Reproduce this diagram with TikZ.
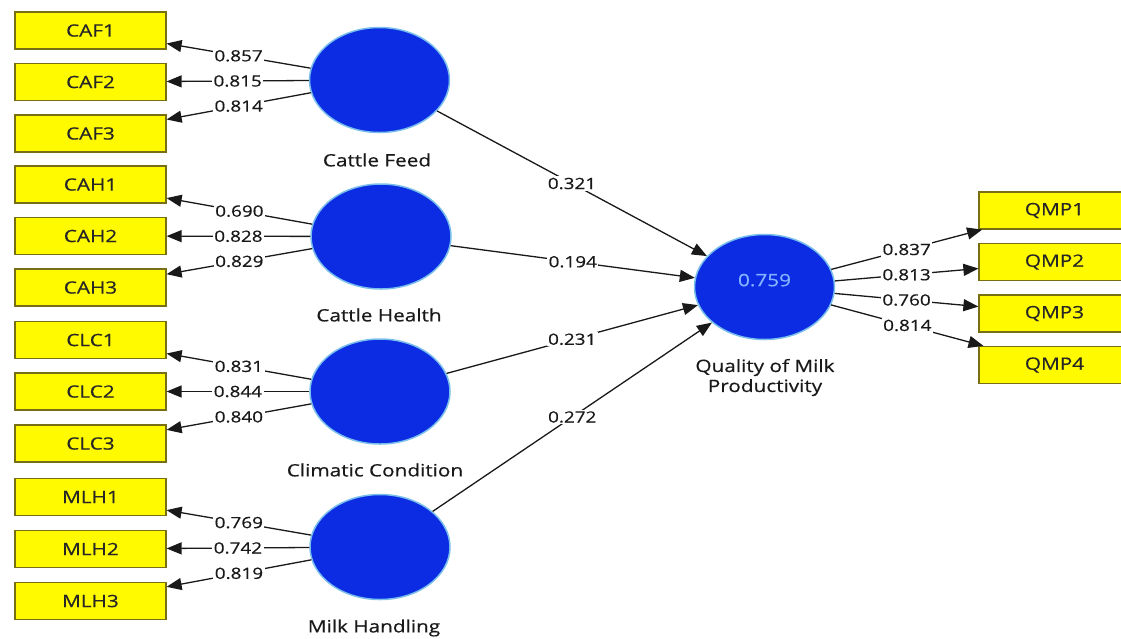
\documentclass[tikz,border=0pt]{standalone}
\usepackage{fontspec}
\setmainfont{Open Sans}[FakeStretch=1.22,FakeBold=0.5]
\usetikzlibrary{shapes.geometric,arrows.meta}
\definecolor{lvblue}{RGB}{12,44,228}
\definecolor{lvedge}{RGB}{120,190,235}
\definecolor{mvyellow}{RGB}{255,250,0}
\definecolor{mvedge}{RGB}{120,110,20}
\definecolor{rsq}{RGB}{130,180,255}
\tikzset{
  mv/.style={rectangle,fill=mvyellow,draw=mvedge,line width=1.2pt,minimum width=151pt,minimum height=37pt,inner sep=0pt,
    font=\fontsize{17}{19}\selectfont,text=black!85},
  lv/.style={ellipse,fill=lvblue,draw=lvedge,line width=1.5pt,minimum width=140pt,minimum height=105pt,inner sep=0pt},
  lvlabel/.style={font=\fontsize{17}{21}\selectfont,text=black!90,align=center},
  path/.style={draw=black!90,line width=1.3pt,-{Triangle[length=15pt,width=12pt]}},
  coef/.style={fill=white,inner sep=1.5pt,font=\fontsize{15.5}{18}\selectfont,text=black!90}
}
\begin{document}
\begin{tikzpicture}[x=1pt,y=-1pt]
\useasboundingbox[fill=white] (0,0) rectangle (1121,638);
% indicator boxes
\node[mv] (caf1) at (90.5,30.5) {CAF1};
\node[mv] (caf2) at (90.5,82) {CAF2};
\node[mv] (caf3) at (90.5,133.5) {CAF3};
\node[mv] (cah1) at (90.5,184.5) {CAH1};
\node[mv] (cah2) at (90.5,236) {CAH2};
\node[mv] (cah3) at (90.5,287.5) {CAH3};
\node[mv] (clc1) at (90.5,340) {CLC1};
\node[mv] (clc2) at (90.5,391.5) {CLC2};
\node[mv] (clc3) at (90.5,443.5) {CLC3};
\node[mv] (mlh1) at (90.5,497) {MLH1};
\node[mv] (mlh2) at (90.5,549) {MLH2};
\node[mv] (mlh3) at (90.5,601) {MLH3};
\node[mv] (qmp1) at (1054.5,210.5) {QMP1};
\node[mv] (qmp2) at (1054.5,262) {QMP2};
\node[mv] (qmp3) at (1054.5,313.5) {QMP3};
\node[mv] (qmp4) at (1054.5,365) {QMP4};
% latent variables
\node[lv] (cf) at (379.5,80) {};
\node[lv] (ch) at (381,236.5) {};
\node[lv] (cc) at (380,391.5) {};
\node[lv] (mh) at (380,547) {};
\node[lv,font=\fontsize{17}{19}\selectfont,text=rsq,text depth=14pt] (q) at (764.5,287) {0.759};
\node[lvlabel] (cfl) at (377,160) {Cattle Feed};
\node[lvlabel] (chl) at (379,315) {Cattle Health};
\node[lvlabel] (ccl) at (375,470) {Climatic Condition};
\node[lvlabel] (mhl) at (374,628) {Milk Handling};
\node[lvlabel] (ql) at (765,377.5) {Quality of Milk\\[-1pt]Productivity};
% outer loadings
\draw[path] (cf) -- node[coef]{0.857} (caf1);
\draw[path] (cf) -- node[coef]{0.815} (caf2);
\draw[path] (cf) -- node[coef]{0.814} (caf3);
\draw[path] (ch) -- node[coef]{0.690} (cah1);
\draw[path] (ch) -- node[coef]{0.828} (cah2);
\draw[path] (ch) -- node[coef]{0.829} (cah3);
\draw[path] (cc) -- node[coef]{0.831} (clc1);
\draw[path] (cc) -- node[coef]{0.844} (clc2);
\draw[path] (cc) -- node[coef]{0.840} (clc3);
\draw[path] (mh) -- node[coef]{0.769} (mlh1);
\draw[path] (mh) -- node[coef]{0.742} (mlh2);
\draw[path] (mh) -- node[coef]{0.819} (mlh3);
\draw[path] (q) -- node[coef]{0.837} (qmp1);
\draw[path] (q) -- node[coef]{0.813} (qmp2);
\draw[path] (q) -- node[coef]{0.760} (qmp3);
\draw[path] (q) -- node[coef]{0.814} (qmp4);
% structural paths
\draw[path] (cf) -- node[coef]{0.321} (q);
\draw[path] (ch) -- node[coef]{0.194} (q);
\draw[path] (cc) -- node[coef]{0.231} (q);
\draw[path] (mh) -- node[coef]{0.272} (q);
\end{tikzpicture}
\end{document}
